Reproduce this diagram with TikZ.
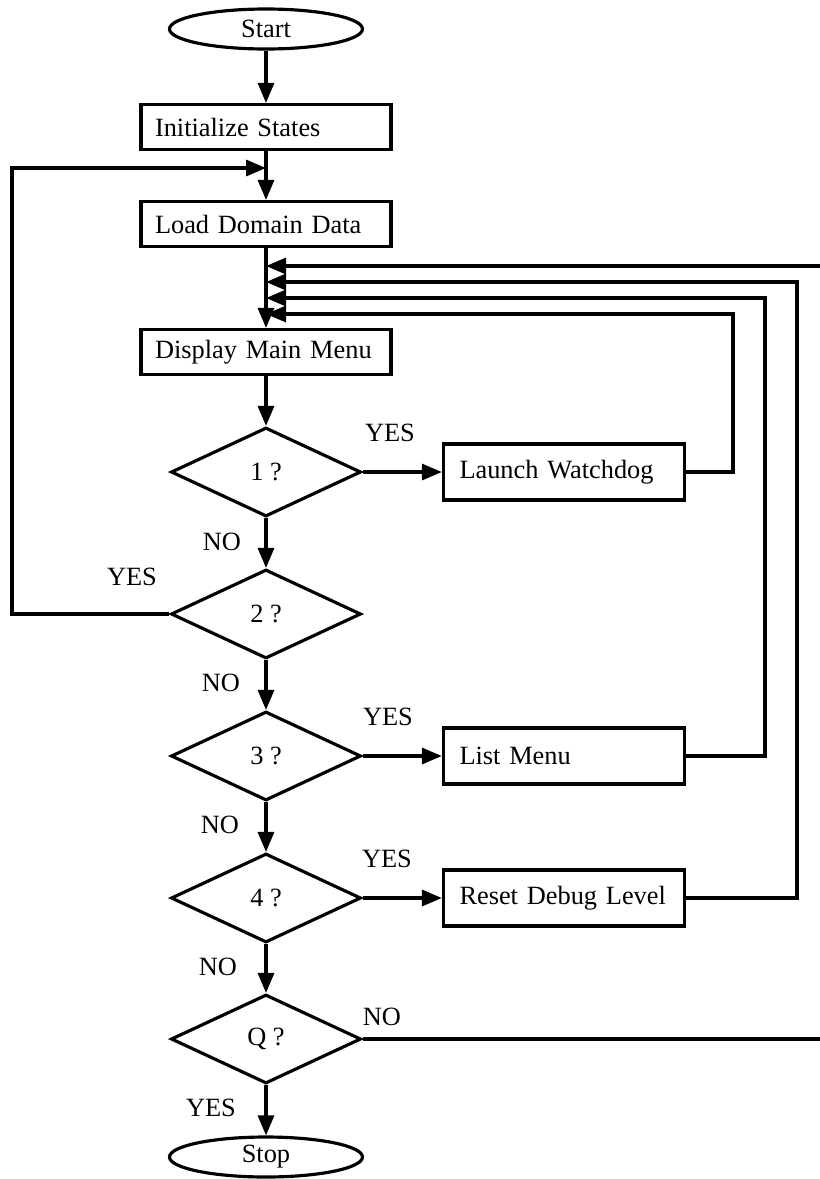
\documentclass[tikz,border=0pt]{standalone}
\usepackage{fontspec}
\setmainfont{Liberation Serif}
\usetikzlibrary{shapes.geometric,arrows.meta,positioning,calc}

\tikzset{
    flow/.style={line width=2.7pt},
    arr/.style={flow, -{Triangle[length=6mm,width=4.8mm]}},
    mainbox/.style={draw, flow, text width=66.6mm, inner xsep=4.2mm, minimum height=13.5mm, align=left},
    sidebox/.style={draw, flow, text width=62.7mm, inner xsep=4.8mm, minimum height=16.8mm, align=left},
    decision/.style={draw, flow, diamond, inner sep=0pt, minimum width=57mm, minimum height=26.7mm},
    terminal/.style={draw, flow, ellipse, inner sep=0pt, minimum width=57.9mm, minimum height=12mm},
    answer/.style={inner sep=0pt}
}

\begin{document}
\begin{tikzpicture}[x=0.3mm, y=-0.3mm, font=\fontsize{22.5}{26}\selectfont]
        \useasboundingbox (0,0) rectangle (819,1179);

        % Main column
        \node[terminal] (start) at (266, 29) {Start};
        \node[mainbox] (init) at (266, 127) {Initialize States};
        \node[mainbox] (load) at (266, 224) {Load Domain Data};
        \node[mainbox] (menu) at (266, 352) {Display Main Menu};
        \node[decision] (q1) at (266, 472) {1 ?};
        \node[decision] (q2) at (266, 614) {2 ?};
        \node[decision] (q3) at (266, 756) {3 ?};
        \node[decision] (q4) at (266, 898) {4 ?};
        \node[decision] (qq) at (266, 1039) {Q ?};
        \node[terminal] (stop) at (266, 1157) {Stop};

        % Side actions
        \node[sidebox] (launch) at (564, 472) {Launch Watchdog};
        \node[sidebox] (list) at (564, 756) {List Menu};
        \node[sidebox] (reset) at (564, 898) {Reset Debug Level};

        % Junction points on the main line
        \coordinate (loopin) at (266, 168);
        \coordinate (fb1) at (266, 266);
        \coordinate (fb2) at (266, 282);
        \coordinate (fb3) at (266, 298);
        \coordinate (fb4) at (266, 314);

        % Downward flow
        \draw[arr] (start) -- (init);
        \draw[arr] (init) -- (load);
        \draw[arr] (load) -- (menu);
        \draw[arr] (menu) -- (q1);
        \draw[arr] (q1) -- (q2);
        \draw[arr] (q2) -- (q3);
        \draw[arr] (q3) -- (q4);
        \draw[arr] (q4) -- (qq);
        \draw[arr] (qq) -- (stop);

        % YES branches
        \draw[arr] (q1.east) -- (launch.west);
        \draw[arr] (q3.east) -- (list.west);
        \draw[arr] (q4.east) -- (reset.west);

        % Loops back
        \draw[arr] (q2.west) -| (12, 168) -- (loopin);
        \draw[arr] (launch.east) -| (733, 314) -- (fb4);
        \draw[arr] (list.east) -| (765, 298) -- (fb3);
        \draw[arr] (reset.east) -| (797, 282) -- (fb2);
        \draw[arr] (qq.east) -| (822, 266) -- (fb1);

        % Answers
        \node[answer] (y1) at (390, 433) {YES};
        \node[answer] (n1) at (222, 542) {NO};
        \node[answer] (y2) at (132, 577) {YES};
        \node[answer] (n2) at (221, 683) {NO};
        \node[answer] (y3) at (388, 717) {YES};
        \node[answer] (n3) at (220, 825) {NO};
        \node[answer] (y4) at (387, 859) {YES};
        \node[answer] (n4) at (218, 967) {NO};
        \node[answer] (nq) at (382, 1017) {NO};
        \node[answer] (yq) at (211, 1108) {YES};
    \end{tikzpicture}
\end{document}
